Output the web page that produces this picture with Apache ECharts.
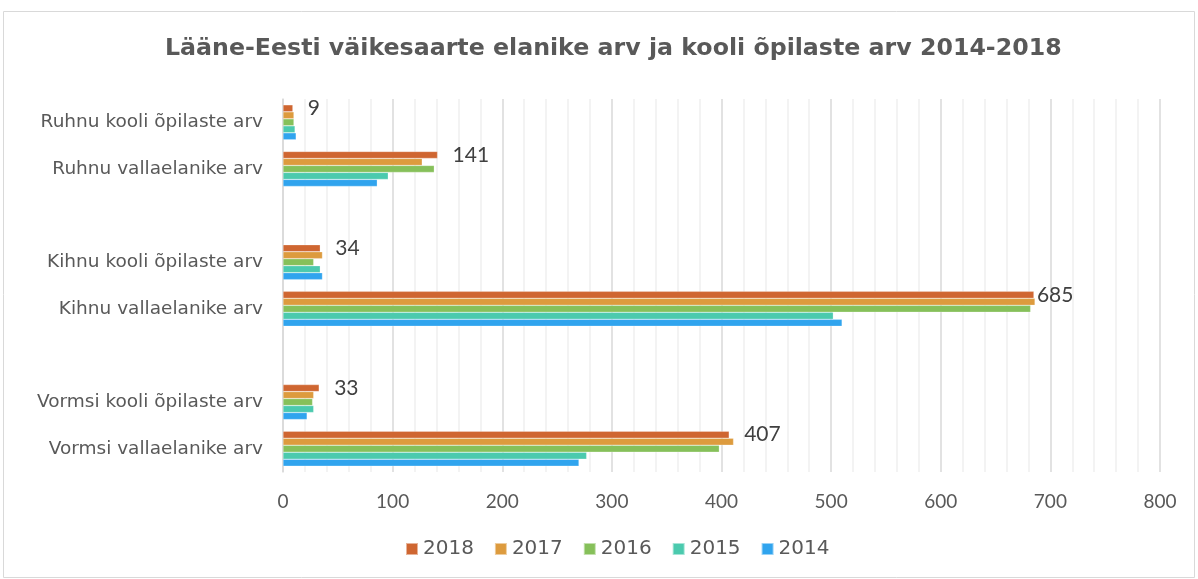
<!DOCTYPE html>
<html>
<head>
<meta charset="utf-8">
<script src="https://cdn.jsdelivr.net/npm/echarts@6/dist/echarts.min.js"></script>
<style>
  html, body { margin: 0; padding: 0; background: #fff; }
  #chart { width: 1198px; height: 579px; }
</style>
</head>
<body>
<div id="chart"></div>
<script>
// kategooriad (tühjad read jätavad saarte vahele vahe)
var categories = [
  'Ruhnu kooli õpilaste arv', 'Ruhnu vallaelanike arv', '',
  'Kihnu kooli õpilaste arv', 'Kihnu vallaelanike arv', '',
  'Vormsi kooli õpilaste arv', 'Vormsi vallaelanike arv'
];
var years = ['2018', '2017', '2016', '2015', '2014'];

var v2018 = [9, 141, null, 34, 685, null, 33, 407];
var v2017 = [10, 127, null, 36, 686, null, 28, 411];
var v2016 = [10, 138, null, 28, 682, null, 27, 398];
var v2015 = [11, 96, null, 34, 502, null, 28, 277];
var v2014 = [12, 86, null, 36, 510, null, 22, 270];

var colors = ['#CF6631', '#DD9B3E', '#86C05A', '#4BCAAE', '#30A4EE'];
var font = 'Lato, "Noto Sans", sans-serif';
var wide = '"DejaVu Sans", sans-serif';

var chart = echarts.init(document.getElementById('chart'));

function makeSeries(name, data, i) {
  var s = {
    name: name,
    type: 'bar',
    data: data,
    barGap: '0%',
    barCategoryGap: '25%',
    itemStyle: { color: colors[i], borderColor: 'rgba(255,255,255,0.5)', borderWidth: 0.5 }
  };
  // ainult 2018 väärtused on sildiga
  if (i === 0) {
    s.data = data.map(function (v) {
      // Kihnu silt on Excelis kohe tulba otsas
      if (v > 600) return { value: v, label: { distance: 3 } };
      return v;
    });
    s.label = {
      show: true, position: 'right', distance: 15,
      fontFamily: font, fontSize: 21, color: '#404040'
    };
  }
  return s;
}

var allData = [v2018, v2017, v2016, v2015, v2014];
var series = years.map(function (y, i) { return makeSeries(y, allData[i], i); });

chart.setOption({
  animation: false,
  title: {
    text: 'Lääne-Eesti väikesaarte elanike arv ja kooli õpilaste arv 2014-2018',
    left: 160, top: 32,
    textStyle: { fontFamily: wide, fontSize: 23.7, fontWeight: 'bold', color: '#595959' }
  },
  graphic: [{
    type: 'rect',
    shape: { x: 3.5, y: 11.5, width: 1191, height: 566 },
    style: { fill: 'none', stroke: '#d9d9d9', lineWidth: 1 },
    silent: true
  }],
  legend: {
    bottom: 15, left: 400,
    itemWidth: 12, itemHeight: 12, itemGap: 20,
    icon: 'rect',
    textStyle: { fontFamily: wide, fontSize: 20, color: '#595959' },
    data: years
  },
  grid: { left: 283, right: 38, top: 99, bottom: 107 },
  xAxis: {
    type: 'value', min: 0, max: 800, interval: 100,
    axisLine: { show: false }, axisTick: { show: false },
    axisLabel: { fontFamily: font, fontSize: 19, color: '#595959', margin: 20 },
    splitLine: { lineStyle: { color: '#d9d9d9', width: 1.5 } },
    minorTick: { show: false, splitNumber: 5 },
    minorSplitLine: { show: true, lineStyle: { color: '#f0f0f0', width: 1.5 } }
  },
  yAxis: {
    type: 'category', data: categories, inverse: true,
    axisLine: { show: true, lineStyle: { color: '#d9d9d9', width: 1.5 } },
    axisTick: { show: false },
    axisLabel: { fontFamily: wide, fontSize: 18.5, color: '#595959', margin: 20 }
  },
  series: series
});
</script>
</body>
</html>
